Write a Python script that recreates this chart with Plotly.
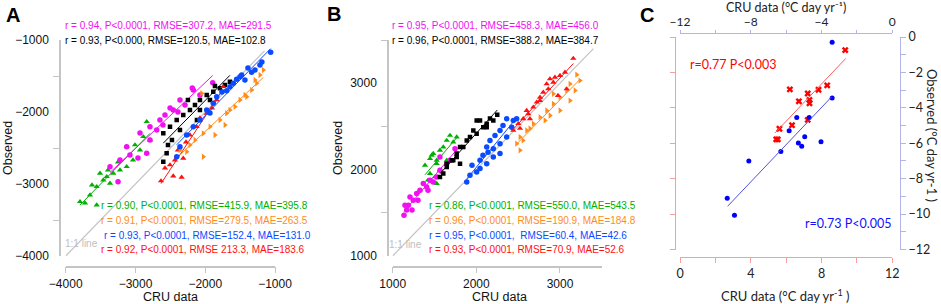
import numpy as np
import plotly.graph_objects as go

W, H = 941, 304

# ---------------- Panel A data (CRU vs observed) ----------------
A_green_x = [-3795, -3723, -3556, -3652, -3556, -3461, -3412, -3318, -3222, -3126, -3508, -3365, -3035, -2935, -2839, -2888, -3126, -2792, -3250, -3394, -3623, -3007]
A_green_y = [-3246, -3264, -3292, -3153, -3038, -2945, -2899, -2852, -2806, -2760, -2852, -2990, -2667, -2528, -2135, -2343, -2482, -2389, -2695, -2806, -3014, -2458]

A_magenta_x = [-1893, -2171, -2186, -2458, -2649, -2696, -2792, -2935, -3126, -2839, -2964, -3250, -3365, -2362, -2290, -2504, -2577, -2076, -2792, -3079, -3222, -2606, -2391]
A_magenta_y = [-1593, -1695, -1667, -1972, -2111, -2250, -2204, -2292, -2482, -2574, -2639, -2968, -2760, -1833, -1903, -1945, -2042, -1764, -2389, -2597, -2667, -2181, -2000]

A_black_x = [-1646, -1717, -1789, -1885, -1979, -2076, -2147, -2219, -2315, -2409, -2505, -2601, -2601, -2553, -2534, -2248, -2076, -1932, -2362, -2477, -1861, -2119]
A_black_y = [-1579, -1625, -1671, -1718, -1764, -1833, -1903, -1972, -2042, -2111, -2204, -2296, -2690, -2574, -2458, -1833, -1972, -1833, -2250, -2389, -1639, -2111]

A_blue_x = [-1062, -1216, -1287, -1335, -1478, -1431, -1550, -1598, -1646, -1693, -1836, -1885, -1979, -2076, -2171, -2266, -2362, -2409, -1932, -1502, -1188, -1388, -1761]
A_blue_y = [-1171, -1347, -1417, -1449, -1486, -1556, -1546, -1601, -1649, -1704, -1788, -1879, -1972, -2111, -2204, -2320, -2482, -2621, -2014, -1510, -1306, -1389, -1722]

A_orange_x = [-1168, -1216, -1263, -1335, -1406, -1502, -1574, -1693, -1789, -1932, -2028, -2051, -2028, -2266, -2147, -1861, -1646, -1431, -2219, -2362, -1287, -1717]
A_orange_y = [-1417, -1486, -1601, -1694, -1788, -1833, -1926, -2018, -2111, -2204, -2296, -1740, -2621, -2552, -2389, -2320, -1972, -1764, -2458, -2528, -1556, -2181]

A_red_x = [-2634, -2458, -2338, -2315, -2505, -1742, -1836, -1979, -2123, -2219, -2391, -2434, -2076, -1904, -2276, -2577]
A_red_y = [-2958, -2889, -2907, -2643, -2736, -1649, -1833, -2018, -2204, -2320, -2528, -2667, -2083, -1945, -2417, -2778]

A_ticks_x = [-4000, -3000, -2000, -1000]
A_ticks_y = [-4000, -3000, -2000, -1000]
A_minor_y = [-3500, -2500, -1500]
A_one_to_one = [-4000, -1150]

A_stats = {
    "magenta": "r = 0.94, P<0.0001, RMSE=307.2, MAE=291.5",
    "black": "r = 0.93, P<0.000, RMSE=120.5, MAE=102.8",
    "green": "r = 0.90, P<0.0001, RMSE=415.9, MAE=395.8",
    "orange": "r = 0.91, P<0.0001, RMSE=279.5, MAE=263.5",
    "blue": "r = 0.93, P<0.0001, RMSE=152.4, MAE=131.0",
    "red": "r = 0.92, P<0.0001, RMSE 213.3, MAE=183.6",
}

# ---------------- Panel B data ----------------
B_red_x = [3159, 3060, 3000, 2940, 2920, 2841, 2860, 2800, 2761, 2722, 2681, 2621, 2561, 2502, 2442, 3080, 2880, 2761, 2602, 2641, 2976, 2522]
B_red_y = [3287, 3126, 3088, 3068, 3010, 2992, 2934, 2895, 2837, 2780, 2722, 2646, 2588, 2531, 2453, 2934, 3050, 2799, 2684, 2588, 2857, 2476]

B_orange_x = [3200, 3239, 3120, 3080, 3000, 2920, 2841, 2761, 2681, 2602, 2522, 2482, 2558, 2920, 2522, 2821, 3000, 3120, 2641, 2881, 3180]
B_orange_y = [3099, 3030, 2992, 2915, 2837, 2761, 2684, 2607, 2531, 2453, 2376, 2300, 2338, 2877, 2223, 2569, 2684, 2799, 2476, 2626, 2915]

B_blue_x = [2363, 2442, 2482, 2423, 2363, 2283, 2203, 1885, 2044, 2124, 2203, 2283, 2004, 2163, 2124, 2044, 2283, 2223, 2079, 1948, 1924, 2319, 2140]
B_blue_y = [2588, 2569, 2588, 2491, 2376, 2300, 2242, 1857, 2012, 2069, 2145, 2185, 1972, 2338, 2261, 2107, 2453, 2396, 2165, 2050, 1934, 2511, 2200]

B_black_x = [2250, 2203, 2124, 2083, 2004, 1964, 1924, 1885, 1805, 1765, 1705, 1646, 2044, 2124, 2004, 1844, 1765, 1724, 1646, 1605, 1565, 1805, 2163]
B_black_y = [2634, 2569, 2531, 2491, 2569, 2453, 2376, 2338, 2261, 2185, 2107, 2069, 2569, 2491, 2415, 2261, 2145, 2107, 2030, 1954, 1915, 2069, 2592]

B_green_x = [1685, 1765, 1646, 1605, 1466, 1526, 1485, 1446, 1526, 1565, 1506, 1526, 1446, 1646, 1724, 1386, 1422, 1565]
B_green_y = [2396, 2376, 2338, 2261, 2165, 2107, 2185, 2127, 2069, 1992, 1915, 1839, 1954, 2107, 2318, 2050, 1877, 2223]

B_magenta_x = [1167, 1187, 1246, 1287, 1326, 1406, 1485, 1526, 1565, 1646, 1207, 1366, 1446, 1565, 1745, 1135, 1147, 1231, 1302, 1422, 1685]
B_magenta_y = [1531, 1588, 1646, 1723, 1761, 1799, 1857, 1915, 1992, 2069, 1684, 1839, 1877, 2145, 2242, 1473, 1588, 1531, 1646, 1761, 2107]

B_ticks_x = [1000, 2000, 3000]
B_ticks_y = [1000, 2000, 3000]
B_minor_y = [1500, 2500, 3500]
B_one_to_one = [1000, 3400]

B_stats = {
    "magenta": "r = 0.95, P<0.0001, RMSE=458.3, MAE=456.0",
    "black": "r = 0.96, P<0.0001, RMSE=388.2, MAE=384.7",
    "green": "r = 0.86, P<0.0001, RMSE=550.0, MAE=543.5",
    "orange": "r = 0.96, P<0.0001, RMSE=190.9, MAE=184.8",
    "blue": "r = 0.95, P<0.0001,  RMSE=60.4, MAE=42.6",
    "red": "r = 0.93, P<0.0001, RMSE=70.9, MAE=52.6",
}

# ---------------- Panel C data ----------------
C_red_x = [9.34, 6.21, 7.22, 7.83, 8.32, 6.72, 7.32, 7.32, 6.33, 5.62, 7.22, 5.44, 5.53]
C_red_y = [11.26, 9.04, 8.81, 9.02, 9.27, 8.37, 8.45, 8.26, 7.02, 6.82, 7.32, 6.22, 6.22]
C_red_fit_x = [5.38, 9.37]
C_red_fit_y = [6.59, 10.79]

C_blue_x = [-3.40, -3.40, -5.40, -4.70, -5.83, -4.95, -5.31, -5.12, -4.03, -6.30, -8.11, -9.33, -8.92]
C_blue_y = [-0.30, -3.44, -4.54, -4.54, -5.29, -5.63, -5.98, -6.17, -5.91, -6.46, -7.00, -9.11, -10.07]
C_blue_fit_x = [-9.31, -3.44]
C_blue_fit_y = [-9.56, -3.39]

COL = {"green": "#00b000", "magenta": "#f010f0", "black": "#000000",
       "blue": "#0a4bff", "orange": "#ff8c1a", "red": "#ff1010"}
SYM = {"green": "triangle-up", "magenta": "circle", "black": "square",
       "blue": "circle", "orange": "triangle-right", "red": "triangle-up"}


def fx(px):
    return px / W


def fy(py):
    return 1 - py / H


fig = go.Figure()


def add_series(xs, ys, name, xa, ya):
    fig.add_trace(go.Scatter(x=xs, y=ys, mode="markers", xaxis=xa, yaxis=ya,
                             marker=dict(color=COL[name], symbol=SYM[name],
                                         size=5.5 if SYM[name] != "square" else 4.5,
                                         line=dict(width=0))))
    k, b = np.polyfit(xs, ys, 1)
    lx = np.array([min(xs), max(xs)])
    fig.add_trace(go.Scatter(x=lx, y=k * lx + b, mode="lines", xaxis=xa, yaxis=ya,
                             line=dict(color=COL[name], width=1)))


GRAY = "#c4c4c4"
# 1:1 lines
fig.add_trace(go.Scatter(x=A_one_to_one, y=A_one_to_one, mode="lines", xaxis="x", yaxis="y",
                         line=dict(color=GRAY, width=1.2)))
fig.add_trace(go.Scatter(x=B_one_to_one, y=B_one_to_one, mode="lines", xaxis="x2", yaxis="y2",
                         line=dict(color=GRAY, width=1.2)))

for name, xs, ys in [("green", A_green_x, A_green_y), ("magenta", A_magenta_x, A_magenta_y),
                     ("black", A_black_x, A_black_y), ("red", A_red_x, A_red_y),
                     ("orange", A_orange_x, A_orange_y), ("blue", A_blue_x, A_blue_y)]:
    add_series(xs, ys, name, "x", "y")

for name, xs, ys in [("green", B_green_x, B_green_y), ("magenta", B_magenta_x, B_magenta_y),
                     ("black", B_black_x, B_black_y), ("blue", B_blue_x, B_blue_y),
                     ("orange", B_orange_x, B_orange_y), ("red", B_red_x, B_red_y)]:
    add_series(xs, ys, name, "x2", "y2")

# Panel C
fig.add_trace(go.Scatter(x=C_red_x, y=C_red_y, mode="markers", xaxis="x3", yaxis="y3",
                         marker=dict(color="#ff0000", symbol="x", size=6, line=dict(width=0))))
fig.add_trace(go.Scatter(x=C_red_fit_x, y=C_red_fit_y, mode="lines", xaxis="x3", yaxis="y3",
                         line=dict(color="#f26060", width=1)))
fig.add_trace(go.Scatter(x=C_blue_x, y=C_blue_y, mode="markers", xaxis="x4", yaxis="y4",
                         marker=dict(color="#0000ff", symbol="circle", size=5)))
fig.add_trace(go.Scatter(x=C_blue_fit_x, y=C_blue_fit_y, mode="lines", xaxis="x4", yaxis="y4",
                         line=dict(color="#5050e0", width=1)))

AF = dict(family="Liberation Sans, Arial", size=12, color="#111111")
CF = dict(family="Lato, Carlito, Calibri", size=12.5, color="#222222")
CFT = dict(family="Lato, Carlito, Calibri", size=12, color="#222222")

ydom = [fy(256), fy(40)]
BASE = dict(automargin=False, showgrid=False, zeroline=False, showline=True)

layout = dict(
    template="none",
    width=W, height=H, margin=dict(l=0, r=0, t=0, b=0, pad=0), autosize=False,
    paper_bgcolor="white", plot_bgcolor="white", showlegend=False,
    font=AF,
    xaxis=dict(BASE, domain=[fx(65.7), fx(275)], range=[-4000, -1000], anchor="free", position=fy(266.7),
               tickvals=A_ticks_x, ticks="outside", ticklen=6,
               tickcolor=GRAY, linecolor=GRAY, linewidth=1.5, tickfont=AF),
    yaxis=dict(BASE, domain=ydom, range=[-4000, -1000], anchor="free", position=fx(60),
               tickvals=A_ticks_y, ticks="", ticklabelstandoff=8,
               minor=dict(tickvals=A_minor_y, ticks="outside", ticklen=6, tickcolor=GRAY),
               linecolor=GRAY, linewidth=1.5, tickfont=AF),
    xaxis2=dict(BASE, domain=[fx(392.7), fx(601.8)], range=[1000, 3500], anchor="free", position=fy(266.7),
                tickvals=B_ticks_x, ticks="outside", ticklen=6, tickcolor=GRAY,
                linecolor=GRAY, linewidth=1.5, tickfont=AF),
    yaxis2=dict(BASE, domain=ydom, range=[1000, 3500], anchor="free", position=fx(388),
                tickvals=B_ticks_y, ticks="", ticklabelstandoff=8,
                minor=dict(tickvals=B_minor_y, ticks="outside", ticklen=6, tickcolor=GRAY),
                linecolor=GRAY, linewidth=1.5, tickfont=AF),
    xaxis3=dict(BASE, domain=[fx(680), fx(892.3)], range=[0, 12], anchor="free", position=fy(256.7),
                tickvals=[0, 4, 8, 12], ticks="outside", ticklen=5, tickcolor="#f4a0a0",
                minor=dict(dtick=2, tick0=0, ticks="outside", ticklen=5, tickcolor="#f4a0a0"),
                linecolor="#f4a0a0", linewidth=1, tickfont=CF),
    yaxis3=dict(BASE, domain=[fy(249.5), fy(37)], range=[0, 12], anchor="free", position=fx(675),
                tickvals=[0, 2, 4, 6, 8, 10, 12], showticklabels=False, ticks="outside", ticklen=5,
                tickcolor="#f4a0a0", linecolor="#f4a0a0", linewidth=1),
    xaxis4=dict(BASE, overlaying="x3", side="top", range=[-12, 0], anchor="free", position=fy(33.3),
                tickvals=[-12, -8, -4, 0], ticks="outside", ticklen=3, tickcolor="#b4b4e8",
                minor=dict(dtick=2, tick0=0, ticks="outside", ticklen=3, tickcolor="#b4b4e8"),
                linecolor="#b4b4e8", linewidth=1, tickfont=CFT),
    yaxis4=dict(BASE, overlaying="y3", side="right", range=[-12, 0], anchor="free", position=fx(900),
                tickvals=[-12, -10, -8, -6, -4, -2, 0], ticks="outside", ticklen=5, tickcolor="#b4b4e8",
                minor=dict(dtick=1, tick0=0, ticks="outside", ticklen=5, tickcolor="#b4b4e8"),
                linecolor="#b4b4e8", linewidth=1, tickfont=CF),
)

ann = []
SF = 10


def stat(text, color, px, py):
    ann.append(dict(text=text, x=fx(px), y=fy(py), xref="paper", yref="paper",
                    xanchor="left", yanchor="middle", showarrow=False,
                    font=dict(family="Liberation Sans, Arial", size=SF, color=color)))


for key, py in [("magenta", 26), ("black", 40.7)]:
    stat(A_stats[key], COL[key], 63, py)
    stat(B_stats[key], COL[key], 390, py)
for key, py in [("green", 205.5), ("orange", 220.5), ("blue", 235), ("red", 249.5)]:
    stat(A_stats[key], COL[key], 99 if key != "blue" else 102, py)
    stat(B_stats[key], COL[key], 427, py)


def txt(text, px, py, font, angle=0, xanchor="center"):
    ann.append(dict(text=text, x=fx(px), y=fy(py), xref="paper", yref="paper",
                    xanchor=xanchor, yanchor="middle", showarrow=False, textangle=angle, font=font))


LF = dict(family="Liberation Sans, Arial", size=20, color="black")
txt("<b>A</b>", 12.5, 15, LF)
txt("<b>B</b>", 334, 14, LF)
txt("<b>C</b>", 647, 15, LF)

GF = dict(family="Liberation Sans, Arial", size=10, color="#c0c0c0")
txt("1:1 line", 81, 243, GF)
txt("1:1 line", 405, 244, GF)

TF = dict(family="Liberation Sans, Arial", size=12.5, color="#111111")
txt("CRU data", 170.5, 296.5, TF)
txt("CRU data", 499, 296.5, TF)
txt("Observed", 8, 148, TF, angle=-90)
txt("Observed", 338, 148, TF, angle=-90)

CT = dict(family="Lato, Carlito, Calibri", size=12.5, color="#222222")
txt("CRU data (°C day yr⁻¹)", 786, 7.5, CT)
txt("CRU data (°C day yr<sup>-1</sup> )", 785, 295, dict(CT, size=13))
txt("Observed (°C day yr-1 )", 932, 135, dict(CT, size=13), angle=90)
txt("r=0.77 P<0.003", 733, 65, dict(family="Lato, Carlito, Calibri", size=12.5, color="#ff0000"))
txt("r=0.73 P<0.005", 848, 223, dict(family="Lato, Carlito, Calibri", size=12.5, color="#1010ff"))

layout["annotations"] = ann
fig.update_layout(**layout)
fig.write_html("out.html", config={"displayModeBar": False},
               post_script="document.body.style.margin='0px';document.body.style.padding='0px';")
